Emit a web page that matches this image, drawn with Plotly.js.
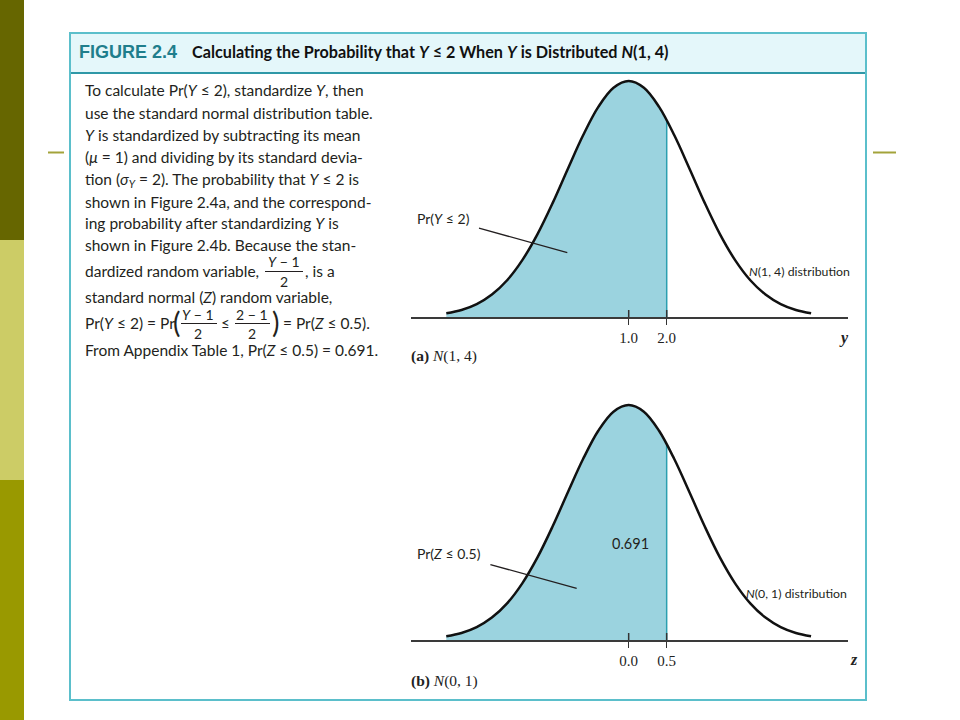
<!DOCTYPE html>
<html><head><meta charset="utf-8">
<script src="https://cdn.plot.ly/plotly-3.0.1.min.js"></script>
<style>html,body{margin:0;padding:0;background:#fff;}#chart{width:960px;height:720px;}</style>
</head><body><div id="chart"></div>
<script>
// ---------- data ----------
const yValues  = [-3.8,-3.4,-3.0,-2.6,-2.2,-1.8,-1.4,-1.0,-0.6,-0.2,0.2,0.6,1.0,1.4,1.8,2.2,2.6,3.0,3.4,3.8,4.2,4.6,5.0,5.4,5.8];
const yDensity = [0.0031,0.0059,0.0109,0.0190,0.0311,0.0481,0.0701,0.0965,0.1254,0.1536,0.1776,0.1938,0.1995,0.1938,0.1776,0.1536,0.1254,0.0965,0.0701,0.0481,0.0311,0.0190,0.0109,0.0059,0.0031];
const yCutoff = 2.0, yCutoffDensity = 0.1664;
const yTickVals = [1.0, 2.0];
const yTickText = ['1.0', '2.0'];

const zValues  = [-2.4,-2.2,-2.0,-1.8,-1.6,-1.4,-1.2,-1.0,-0.8,-0.6,-0.4,-0.2,0.0,0.2,0.4,0.6,0.8,1.0,1.2,1.4,1.6,1.8,2.0,2.2,2.4];
const zDensity = [0.0062,0.0118,0.0218,0.0380,0.0622,0.0962,0.1402,0.1930,0.2508,0.3072,0.3552,0.3876,0.3989,0.3876,0.3552,0.3072,0.2508,0.1930,0.1402,0.0962,0.0622,0.0380,0.0218,0.0118,0.0062];
const zCutoff = 0.5, zCutoffDensity = 0.3328;
const zTickVals = [0.0, 0.5];
const zTickText = ['0.0', '0.5'];
const probability = '0.691';

// ---------- helpers ----------
const W = 960, H = 720;
const px = v => v / W, py = v => 1 - v / H;
function shade(xs, ys, cut, cutY) {
  const sx = [], sy = [];
  xs.forEach((x, i) => { if (x < cut) { sx.push(x); sy.push(ys[i]); } });
  sx.push(cut); sy.push(cutY);
  return {sx, sy};
}
const FILL = '#9bd3df', EDGE = '#2b9fb0', INK = '#231f20';
const SANS = 'Lato, sans-serif';
const SERIF = 'Liberation Serif, Times New Roman, serif';

const sTop = shade(yValues, yDensity, yCutoff, yCutoffDensity);
const sBot = shade(zValues, zDensity, zCutoff, zCutoffDensity);

const traces = [
  {x: sTop.sx, y: sTop.sy, xaxis: 'x', yaxis: 'y', mode: 'lines', fill: 'tozeroy', fillcolor: FILL, line: {width: 0, shape: 'spline'}, hoverinfo: 'skip'},
  {x: [yCutoff, yCutoff], y: [0, yCutoffDensity], xaxis: 'x', yaxis: 'y', mode: 'lines', line: {color: EDGE, width: 1.5}},
  {x: yValues, y: yDensity, xaxis: 'x', yaxis: 'y', mode: 'lines', line: {color: '#111', width: 2.5, shape: 'spline'}},
  {x: sBot.sx, y: sBot.sy, xaxis: 'x2', yaxis: 'y2', mode: 'lines', fill: 'tozeroy', fillcolor: FILL, line: {width: 0, shape: 'spline'}, hoverinfo: 'skip'},
  {x: [zCutoff, zCutoff], y: [0, zCutoffDensity], xaxis: 'x2', yaxis: 'y2', mode: 'lines', line: {color: EDGE, width: 1.5}},
  {x: zValues, y: zDensity, xaxis: 'x2', yaxis: 'y2', mode: 'lines', line: {color: '#111', width: 2.5, shape: 'spline'}}
];

const axX = (range, tv, tt, anchor) => ({
  domain: [px(410.7), px(847.7)], range: range, anchor: anchor,
  showline: true, linecolor: '#3a3a3a', linewidth: 2, showgrid: false, zeroline: false,
  ticks: 'outside', ticklen: 6, tickwidth: 1.5, tickcolor: '#333',
  tickmode: 'array', tickvals: tv, ticktext: tt,
  tickfont: {family: SERIF, size: 15, color: '#222'}, fixedrange: true
});
const axY = (dom, range, anchor) => ({domain: dom, range: range, anchor: anchor, visible: false, showgrid: false, zeroline: false, fixedrange: true});

const shapes = [
  // side strip
  {type: 'rect', xref: 'paper', yref: 'paper', x0: 0, x1: px(24), y0: py(0), y1: py(240), fillcolor: '#666600', line: {width: 0}, layer: 'below'},
  {type: 'rect', xref: 'paper', yref: 'paper', x0: 0, x1: px(24), y0: py(240), y1: py(480), fillcolor: '#cccc66', line: {width: 0}, layer: 'below'},
  {type: 'rect', xref: 'paper', yref: 'paper', x0: 0, x1: px(24), y0: py(480), y1: py(720), fillcolor: '#999900', line: {width: 0}, layer: 'below'},
  {type: 'line', xref: 'paper', yref: 'paper', x0: px(48), x1: px(64), y0: py(152.5), y1: py(152.5), line: {color: '#a3a33a', width: 2}},
  {type: 'line', xref: 'paper', yref: 'paper', x0: px(873), x1: px(896), y0: py(152.5), y1: py(152.5), line: {color: '#a3a33a', width: 2}},
  // figure box
  {type: 'rect', xref: 'paper', yref: 'paper', x0: px(70), x1: px(866), y0: py(33), y1: py(73), fillcolor: '#e4f7fa', line: {width: 0}, layer: 'below'},
  {type: 'line', xref: 'paper', yref: 'paper', x0: px(70), x1: px(866), y0: py(73), y1: py(73), line: {color: '#2f98a7', width: 2}},
  {type: 'rect', xref: 'paper', yref: 'paper', x0: px(70), x1: px(866), y0: py(33), y1: py(700), line: {color: '#5bbfcb', width: 2}},
  // fraction bars
  {type: 'line', xref: 'paper', yref: 'paper', x0: px(265), x1: px(303), y0: py(271.5), y1: py(271.5), line: {color: INK, width: 1}},
  {type: 'line', xref: 'paper', yref: 'paper', x0: px(181), x1: px(217), y0: py(323.5), y1: py(323.5), line: {color: INK, width: 1}},
  {type: 'line', xref: 'paper', yref: 'paper', x0: px(235), x1: px(270), y0: py(323.5), y1: py(323.5), line: {color: INK, width: 1}}
];
// upper half of the tick marks (they cross the axis)
yTickVals.forEach(t => shapes.push({type: 'line', xref: 'x', yref: 'y', x0: t, x1: t, ysizemode: 'pixel', yanchor: 0, y0: 0, y1: 7, line: {color: '#333', width: 1.5}}));
zTickVals.forEach(t => shapes.push({type: 'line', xref: 'x2', yref: 'y2', x0: t, x1: t, ysizemode: 'pixel', yanchor: 0, y0: 0, y1: 7, line: {color: '#333', width: 1.5}}));

function T(text, x, y, opts) {
  return Object.assign({text: text, xref: 'paper', yref: 'paper', x: px(x), y: py(y), xanchor: 'left', yanchor: 'middle', showarrow: false,
    font: {family: SANS, size: 15.5, color: INK}}, opts || {});
}
const C = (text, x, y, size) => T(text, x, y, {xanchor: 'center', font: {family: SANS, size: size || 14, color: INK}});

const annotations = [
  T('<b>FIGURE 2.4</b>', 77, 52, {font: {family: 'Liberation Sans, Arial, sans-serif', size: 18, color: '#1f7e8c'}}),
  T('<b>Calculating the Probability that <i>Y</i> ≤ 2 When <i>Y</i> is Distributed <i>N</i>(1, 4)</b>', 190, 52, {font: {family: SANS, size: 16.2, color: '#111'}}),
  T('To calculate Pr(<i>Y</i> ≤ 2), standardize <i>Y</i>, then', 83, 90),
  T('use the standard normal distribution table.', 83, 112.5),
  T('<i>Y</i> is standardized by subtracting its mean', 83, 135),
  T('(<i>μ</i> = 1) and dividing by its standard devia-', 83, 157),
  T('tion (<i>σ</i><sub><i>Y</i></sub> = 2). The probability that <i>Y</i> ≤ 2 is', 83, 179.5),
  T('shown in Figure 2.4a, and the correspond-', 83, 201.7),
  T('ing probability after standardizing <i>Y</i> is', 83, 223.3),
  T('shown in Figure 2.4b. Because the stan-', 83, 245),
  T('dardized random variable,', 83, 271),
  C('<i>Y</i> − 1', 284, 261.5), C('2', 284, 282),
  T(', is a', 303, 271),
  T('standard normal (<i>Z</i>) random variable,', 83, 297.3),
  T('Pr(<i>Y</i> ≤ 2) = Pr', 83, 323.3),
  C('(', 176, 322, 28), C('<i>Y</i> − 1', 198.3, 314.5), C('2', 198.3, 333),
  C('≤', 225.7, 323.3, 15), C('2 − 1', 252, 314.5), C('2', 252, 333), C(')', 275, 322, 28),
  T('= Pr(<i>Z</i> ≤ 0.5).', 281, 323.3),
  T('From Appendix Table 1, Pr(<i>Z</i> ≤ 0.5) = 0.691.', 83, 350),
  // chart labels
  {text: 'Pr(<i>Y</i> ≤ 2)', xref: 'x', yref: 'y', x: -0.616, y: 0.0544, ax: -124, ay: -34.4, showarrow: true, arrowhead: 0, arrowwidth: 1.3, arrowcolor: INK, startstandoff: 8, font: {family: SANS, size: 14, color: INK}},
  {text: 'Pr(<i>Z</i> ≤ 0.5)', xref: 'x2', yref: 'y2', x: -0.684, y: 0.0878, ax: -127.5, ay: -35, showarrow: true, arrowhead: 0, arrowwidth: 1.3, arrowcolor: INK, startstandoff: 8, font: {family: SANS, size: 14, color: INK}},
  T('<i>N</i>(1, 4) distribution', 747, 271.7, {font: {family: SANS, size: 12.3, color: INK}}),
  T('<i>N</i>(0, 1) distribution', 744, 593.3, {font: {family: SANS, size: 12.3, color: INK}}),
  C(probability, 630.5, 543.3, 14.5),
  T('<b><i>y</i></b>', 837, 338, {font: {family: SERIF, size: 16, color: '#222'}}),
  T('<b><i>z</i></b>', 848, 659.3, {font: {family: SERIF, size: 16, color: '#222'}}),
  T('<b>(a)</b> <i>N</i>(1, 4)', 409, 355.7, {font: {family: SERIF, size: 15.5, color: '#222'}}),
  T('<b>(b)</b> <i>N</i>(0, 1)', 409, 681, {font: {family: SERIF, size: 15.5, color: '#222'}})
];

const layout = {
  width: W, height: H, margin: {l: 0, r: 0, t: 0, b: 0},
  paper_bgcolor: '#ffffff', plot_bgcolor: 'rgba(0,0,0,0)', showlegend: false,
  xaxis: axX([-4.737, 6.763], yTickVals, yTickText, 'y'),
  yaxis: axY([py(317), py(77)], [0, 0.2029], 'x'),
  xaxis2: axX([-2.868, 2.882], zTickVals, zTickText, 'y2'),
  yaxis2: axY([py(640), py(400)], [0, 0.4074], 'x2'),
  shapes: shapes, annotations: annotations
};
Plotly.newPlot('chart', traces, layout, {staticPlot: true, displayModeBar: false});
</script></body></html>
